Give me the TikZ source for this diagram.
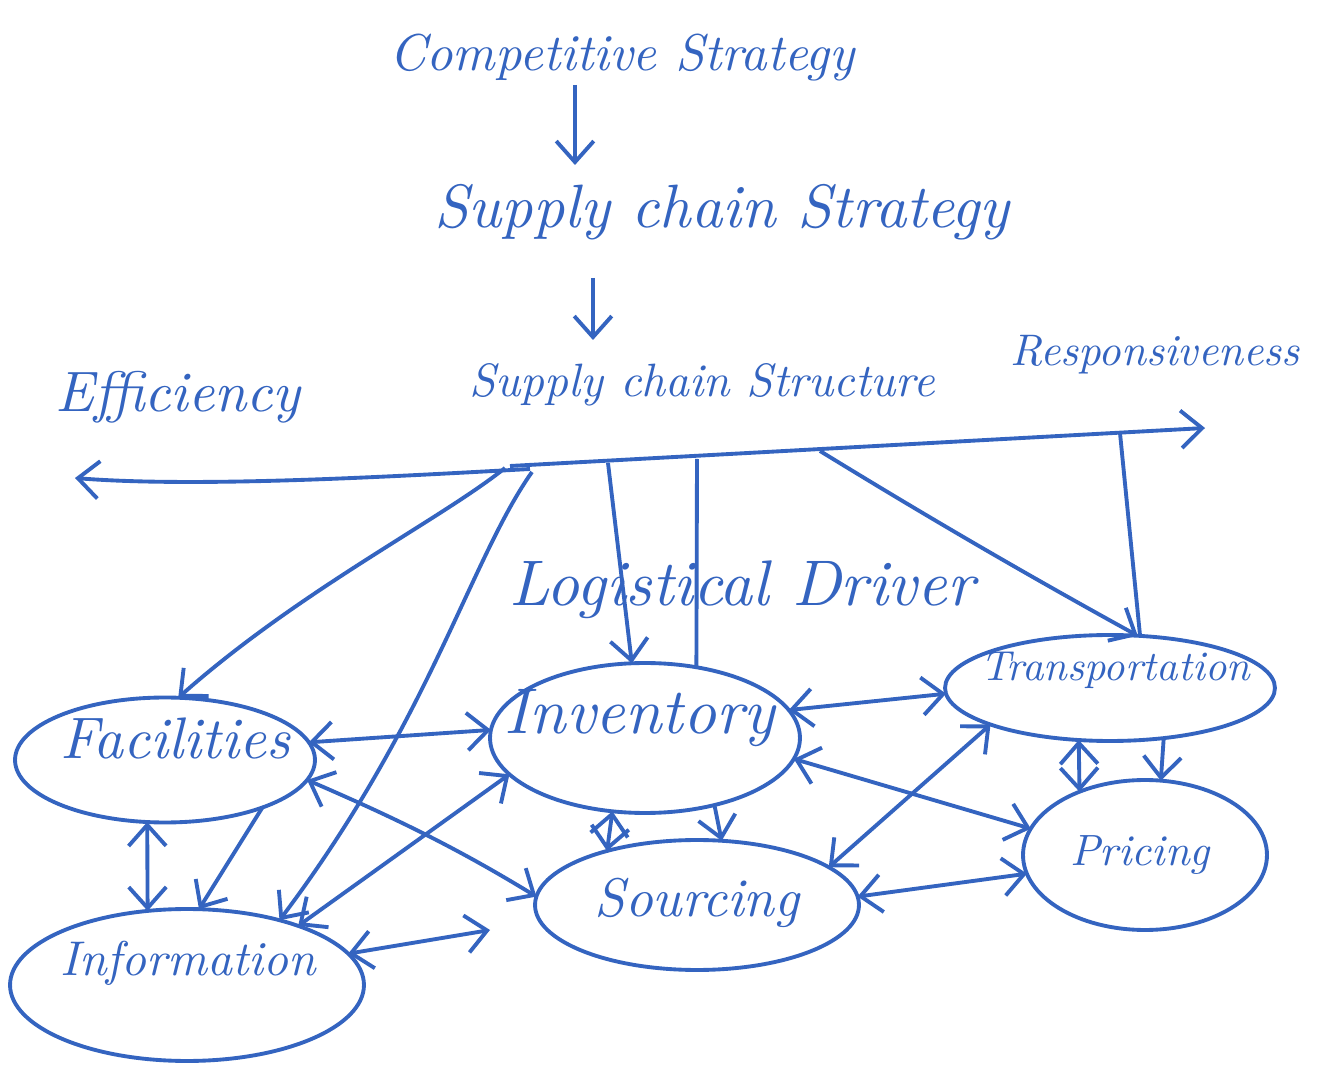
\documentclass[tikz,border=0pt]{standalone}
\usetikzlibrary{arrows.meta,shapes.geometric}
\definecolor{ink}{RGB}{52,100,192}
\newcommand{\fitw}[2]{\resizebox{#1}{!}{\itshape #2}}
\begin{document}
\begin{tikzpicture}[x=0.02cm,y=-0.02cm, line width=2.2pt, color=ink,
  >={Straight Barb[length=4.2mm,width=7.5mm]},
  ell/.style={draw=ink, ellipse, inner sep=0pt, outer sep=0pt},
  lbl/.style={inner sep=0pt, text=ink},
  both/.style={<->},
  one/.style={->}]
\useasboundingbox[fill=white] (0,0) rectangle (1320,1067);

% ---- headings ----
\node[lbl] (cs)  at (622,58)  {\fitw{9.3cm}{Competitive Strategy}};
\node[lbl] (scs) at (722,212) {\fitw{11.5cm}{Supply chain Strategy}};
\node[lbl] (sct) at (702,385) {\fitw{9.3cm}{Supply chain Structure}};
\node[lbl] (eff) at (178,397) {\fitw{4.9cm}{Efficiency}};
\node[lbl] (res) at (1155,355) {\fitw{5.8cm}{Responsiveness}};
\node[lbl] (ld)  at (742,590) {\fitw{9.3cm}{Logistical Driver}};

\coordinate (t1a) at (575,85);  \coordinate (t1b) at (575,165);
\coordinate (t2a) at (593,278); \coordinate (t2b) at (593,340);
\draw[one] (t1a) -- (t1b);
\draw[one] (t2a) -- (t2b);

% ---- axis ----
\coordinate (axC) at (530,469);
\coordinate (axS) at (510,466);
\coordinate (axL) at (75,478);
\coordinate (axR) at (1205,428);
\draw[one] (axC) .. controls (400,476) and (200,488) .. (axL);
\draw[one] (axS) -- (axR);

% ---- driver ellipses ----
\node[ell, minimum width=6.0cm, minimum height=2.5cm]  (fac)   at (165,760) {};
\node[ell, minimum width=6.2cm, minimum height=3.0cm]  (inv)   at (645,738) {};
\node[ell, minimum width=6.6cm, minimum height=2.12cm] (trans) at (1110,688) {};
\node[ell, minimum width=4.88cm, minimum height=3.0cm] (pri)   at (1145,855) {};
\node[ell, minimum width=6.48cm, minimum height=2.6cm] (src)   at (697,905) {};
\node[ell, minimum width=7.08cm, minimum height=3.04cm] (info) at (187,985) {};

\node[lbl] (facL)   at (175,738) {\fitw{4.6cm}{Facilities}};
\node[lbl] (invL)   at (640,718) {\fitw{5.4cm}{Inventory}};
\node[lbl] (transL) at (1115,670) {\fitw{5.4cm}{Transportation}};
\node[lbl] (priL)   at (1140,855) {\fitw{2.8cm}{Pricing}};
\node[lbl] (srcL)   at (697,903) {\fitw{4.1cm}{Sourcing}};
\node[lbl] (infoL)  at (188,963) {\fitw{5.1cm}{Information}};

% ---- branches from the axis ----
\coordinate (b1) at (505,468);
\coordinate (b2) at (532,472);
\coordinate (b3) at (608,463);
\coordinate (b4) at (697,459);
\coordinate (b5) at (820,451);
\coordinate (b6) at (1120,433);
\draw[one] (b1) .. controls (440,520) and (300,590) .. (fac.78);
\draw[one] (b2) .. controls (470,560) and (430,720) .. (info.35);
\draw[one] (b3) -- (inv.100);
\draw (b4) -- (inv.54);
\draw[one] (b5) .. controls (900,500) and (1000,560) .. (trans.62);
\draw (b6) -- (trans.60);

% ---- links between drivers ----
\coordinate (srcgap) at (490,930);
\draw[both] (fac.7)    -- (inv.177);
\draw[both] (fac.254)  -- (info.118);
\draw[one]  (fac.-26)  -- (info.81);
\draw[both] (fac.-8)   .. controls (400,820) and (460,850) .. (src.177);
\draw[both] (info.28)  -- (inv.195);
\draw[both] (info.11)  -- (srcgap);
\draw[both] (inv.-114) -- (src.149);
\draw[one]  (inv.-44)  -- (src.69);
\draw[both] (inv.11)   -- (trans.182);
\draw[both] (inv.-8)   -- (pri.167);
\draw[both] (src.16)   -- (trans.197);
\draw[both] (src.3)    -- (pri.189);
\draw[both] (trans.-121) -- (pri.136);
\draw[one]  (trans.-43)  -- (pri.78);
\end{tikzpicture}
\end{document}
